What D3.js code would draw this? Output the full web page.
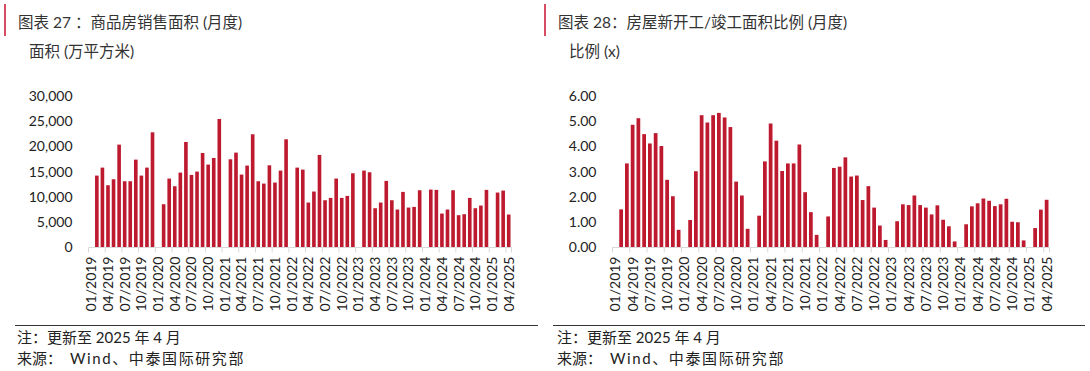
<!DOCTYPE html>
<html>
<head>
<meta charset="utf-8">
<script src="https://cdn.jsdelivr.net/npm/d3@7"></script>
<style>
  body { margin: 0; background: #fff; }
  svg text { font-family: Lato, "Noto Sans CJK SC", sans-serif; fill: #222; }
</style>
</head>
<body>
<div id="charts"></div>
<script>
// *** DATA *** //
var first_year = 2019;
var last_year = 2025;
var last_month = 4;

var months = [];
for (var y = first_year ; y <= last_year ; y++) {
  for (var m = 1 ; m <= 12 ; m++) {
    if (y == last_year && m > last_month) break;
    months.push((m < 10 ? "0" + m : "" + m) + "/" + y);
  }
}

// January is combined into February in the source, so it stays empty
var sales_area = [
  null, 14240, 15820, 12330, 13515, 20370, 13120, 13120, 17400, 14240, 15820, 22810,
  null, 8570, 13650, 12130, 14830, 20900, 14370, 15030, 18720, 16420, 17730, 25450,
  null, 17470, 18790, 14440, 16220, 22420, 13120, 12660, 16280, 12860, 15230, 21430,
  null, 15820, 15430, 8900, 11080, 18330, 9360, 9820, 13650, 9820, 10220, 14700,
  null, 15230, 14900, 7780, 8900, 13190, 9360, 7520, 11010, 7910, 8040, 11340,
  null, 11470, 11410, 6720, 7520, 11340, 6400, 6590, 9820, 7780, 8310, 11410,
  null, 10880, 11270, 6530
];

var start_completion_ratio = [
  null, 1.51, 3.33, 4.86, 5.12, 4.49, 4.12, 4.53, 4.02, 2.68, 2.03, 0.70,
  null, 1.09, 3.02, 5.24, 4.95, 5.24, 5.33, 5.15, 4.77, 2.61, 2.06, 0.74,
  null, 1.26, 3.41, 4.91, 4.23, 3.03, 3.33, 3.33, 4.08, 2.19, 1.40, 0.50,
  null, 1.23, 3.15, 3.20, 3.57, 2.81, 2.85, 1.88, 2.43, 1.58, 0.87, 0.30,
  null, 1.04, 1.71, 1.68, 2.06, 1.68, 1.58, 1.31, 1.67, 1.10, 0.84, 0.24,
  null, 0.92, 1.63, 1.75, 1.94, 1.85, 1.64, 1.71, 1.93, 1.02, 1.00, 0.28,
  null, 0.77, 1.50, 1.89
];

var sales_ticks = [0, 5000, 10000, 15000, 20000, 25000, 30000];
var ratio_ticks = [0, 1, 2, 3, 4, 5, 6];
// ************ //

var width = 1090;
var height = 371;
var bar_color = "#be1a2f";
var axis_color = "#d9d9d9";

var svg = d3.select("#charts").append("svg")
    .attr("width", width)
    .attr("height", height);

var draw_panel = function(panel) {
  // Change these to fine-tune the panel
  var baseline_y = 247.5;
  var top_y = 96;
  var label_gap = 9;
  var padding = 0.35;
  //////////////////////////////////

  svg.append("line")
      .attr("x1", panel.left + 5).attr("x2", panel.left + 5)
      .attr("y1", 4).attr("y2", 36)
      .attr("stroke", "#c8102e")
      .attr("stroke-width", 1.5);

  svg.append("text")
      .attr("x", panel.left + 18)
      .attr("y", 28)
      .style("font-size", "15.5px")
      .style("fill", "#333")
      .text(panel.title);

  svg.append("text")
      .attr("x", panel.left + 29)
      .attr("y", 57)
      .style("font-size", "15.5px")
      .style("fill", "#333")
      .text(panel.unit);

  var x = d3.scaleBand()
      .domain(months)
      .range([panel.axis_start, panel.axis_stop])
      .paddingInner(padding)
      .paddingOuter(padding / 2);

  var y = d3.scaleLinear()
      .domain([0, panel.ticks[panel.ticks.length - 1]])
      .range([baseline_y, top_y]);

  // y axis labels only, no line
  var y_axis = svg.append("g")
      .attr("transform", "translate(" + panel.axis_start + ",0)")
      .call(d3.axisLeft(y).tickValues(panel.ticks).tickSize(0).tickPadding(panel.label_pad).tickFormat(panel.format));
  y_axis.select(".domain").remove();
  y_axis.selectAll("text").style("font-size", "14px").style("font-family", null);

  // bars
  var bar_data = months.map(function(month, i) {
    return { month: month, value: panel.values[i] };
  }).filter(function(d) { return d.value != null; });

  svg.append("g").selectAll("rect")
      .data(bar_data)
      .enter().append("rect")
      .attr("x", function(d) { return x(d.month); })
      .attr("y", function(d) { return y(d.value); })
      .attr("width", x.bandwidth())
      .attr("height", function(d) { return baseline_y - y(d.value); })
      .attr("fill", bar_color);

  // x axis line and ticks between categories
  svg.append("line")
      .attr("x1", panel.axis_start).attr("x2", panel.axis_stop)
      .attr("y1", baseline_y).attr("y2", baseline_y)
      .attr("stroke", axis_color);

  var label_months = months.filter(function(d, i) { return i % 3 == 0; });
  var offset = x.step() * padding / 2;
  var tick_positions = label_months.map(function(d) { return x(d) - offset; });
  tick_positions.push(panel.axis_stop);

  svg.append("g").selectAll("line")
      .data(tick_positions)
      .enter().append("line")
      .attr("x1", function(d) { return d; }).attr("x2", function(d) { return d; })
      .attr("y1", baseline_y).attr("y2", baseline_y + 5)
      .attr("stroke", axis_color);

  svg.append("g").selectAll("text")
      .data(label_months)
      .enter().append("text")
      .attr("transform", function(d) {
        return "translate(" + (x(d) + x.bandwidth() / 2) + "," + (baseline_y + label_gap) + ") rotate(-90)";
      })
      .attr("dy", "0.35em")
      .attr("text-anchor", "end")
      .style("font-size", "14px")
      .text(function(d) { return d; });

  // footer
  svg.append("line")
      .attr("x1", panel.rule_start).attr("x2", panel.rule_stop)
      .attr("y1", 325.5).attr("y2", 325.5)
      .attr("stroke", "#333");

  svg.append("text")
      .attr("x", panel.left + 17)
      .attr("y", 343)
      .style("font-size", "15px")
      .text("注：更新至 2025 年 4 月");

  var source = svg.append("text")
      .attr("x", panel.left + 17)
      .attr("y", 364)
      .style("font-size", "15px");
  source.append("tspan").text("来源：");
  source.append("tspan").attr("dx", 8).style("letter-spacing", "1.6px").text("Wind、中泰国际研究部");
}

draw_panel({
  left: 0,
  title: "图表 27 ：商品房销售面积 (月度)",
  unit: "面积 (万平方米)",
  values: sales_area,
  ticks: sales_ticks,
  format: d3.format(","),
  axis_start: 88.5,
  axis_stop: 511.5,
  label_pad: 16,
  rule_start: 15,
  rule_stop: 538
});

draw_panel({
  left: 540,
  title: "图表 28：房屋新开工/竣工面积比例 (月度)",
  unit: "比例 (x)",
  values: start_completion_ratio,
  ticks: ratio_ticks,
  format: d3.format(".2f"),
  axis_start: 612.5,
  axis_stop: 1049.5,
  label_pad: 16,
  rule_start: 553,
  rule_stop: 1085
});
</script>
</body>
</html>
